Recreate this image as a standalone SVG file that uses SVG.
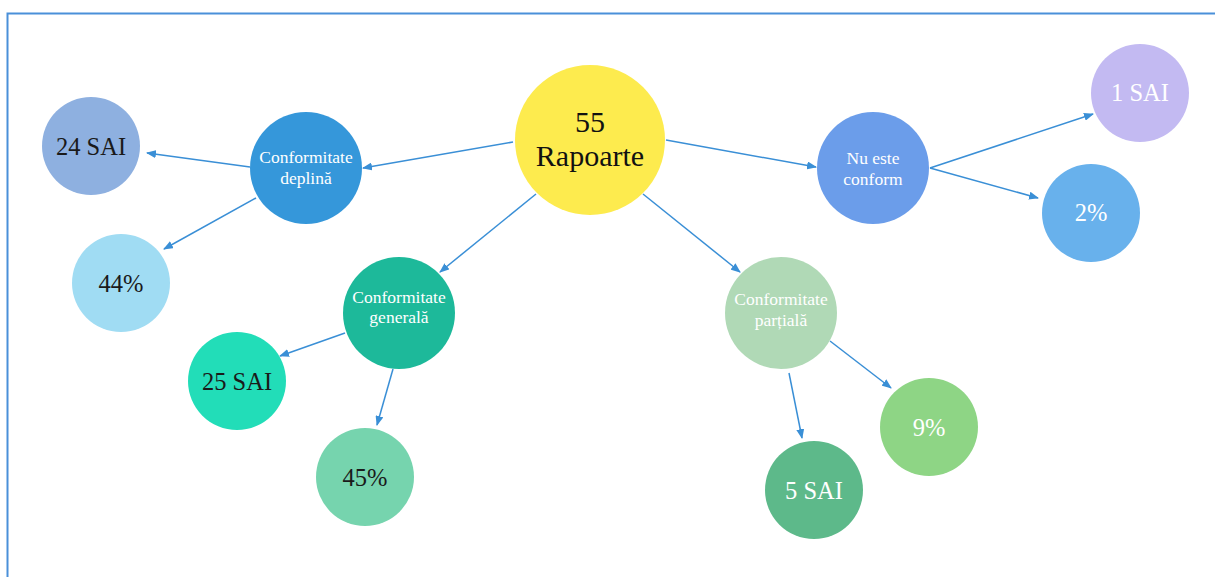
<svg xmlns="http://www.w3.org/2000/svg" width="1215" height="577" viewBox="0 0 1215 577">
<defs>
<marker id="ah" markerWidth="10" markerHeight="8" refX="9" refY="4" orient="auto" markerUnits="userSpaceOnUse">
<path d="M0,0 L10,4 L0,8 z" fill="#3a8fd6"/>
</marker>
<style>
.c{stroke:none}
.e{stroke:#3a8fd6;stroke-width:1.5;fill:none;marker-end:url(#ah)}
text{text-anchor:middle}
.big{font-size:30px;fill:#111}
.lbl{font-size:17.5px;fill:#fff}
.dk{font-size:24.5px;fill:#1a1a1a}
.wt{font-size:24.5px;fill:#fff}
</style>
</defs>
<rect width="1215" height="577" fill="#fff"/>
<path d="M7.5,577 L7.5,13.5 L1215,13.5" fill="none" stroke="#4a90d9" stroke-width="2"/>
<g id="connectors">
<line class="e" x1="513" y1="142" x2="363" y2="168"/>
<line class="e" x1="250" y1="167" x2="147" y2="153"/>
<line class="e" x1="256" y1="198" x2="164" y2="249"/>
<line class="e" x1="536" y1="194" x2="440" y2="272"/>
<line class="e" x1="643" y1="194" x2="740" y2="272"/>
<line class="e" x1="666" y1="140" x2="816" y2="167"/>
<line class="e" x1="930" y1="168" x2="1093" y2="114"/>
<line class="e" x1="930" y1="168" x2="1038" y2="198"/>
<line class="e" x1="345" y1="333" x2="280" y2="356"/>
<line class="e" x1="393" y1="369" x2="377" y2="425"/>
<line class="e" x1="789" y1="373" x2="802" y2="438"/>
<line class="e" x1="830" y1="341" x2="891" y2="388"/>
</g>
<g font-family="Liberation Serif, DejaVu Serif, serif">
<g id="n-center"><circle class="c" cx="590" cy="140" r="75" fill="#fdeb4e"/><text class="big" x="590" y="132">55</text><text class="big" x="590" y="166">Rapoarte</text></g>
<g id="n-deplina"><circle class="c" cx="306" cy="168" r="56" fill="#3597da"/><text class="lbl" x="306" y="163">Conformitate</text><text class="lbl" x="306" y="184">deplină</text></g>
<g id="n-24sai"><circle class="c" cx="91" cy="146" r="49" fill="#8eb0e0"/><text class="dk" x="91" y="155">24 SAI</text></g>
<g id="n-44"><circle class="c" cx="121" cy="283" r="49" fill="#a0dcf3"/><text class="dk" x="121" y="292">44%</text></g>
<g id="n-generala"><circle class="c" cx="399" cy="313" r="56" fill="#1db99a"/><text class="lbl" x="399" y="303">Conformitate</text><text class="lbl" x="399" y="323">generală</text></g>
<g id="n-25sai"><circle class="c" cx="237" cy="381" r="49" fill="#22ddb8"/><text class="dk" x="237" y="390">25 SAI</text></g>
<g id="n-45"><circle class="c" cx="365" cy="477" r="49" fill="#76d4ae"/><text class="dk" x="365" y="486">45%</text></g>
<g id="n-partiala"><circle class="c" cx="781" cy="313" r="56" fill="#b0d9b6"/><text class="lbl" x="781" y="305">Conformitate</text><text class="lbl" x="781" y="326">parțială</text></g>
<g id="n-9"><circle class="c" cx="929" cy="427" r="49" fill="#8ed585"/><text class="wt" x="929" y="436">9%</text></g>
<g id="n-5sai"><circle class="c" cx="814" cy="490" r="49" fill="#5db98a"/><text class="wt" x="814" y="499">5 SAI</text></g>
<g id="n-nueste"><circle class="c" cx="873" cy="168" r="56" fill="#6b9dea"/><text class="lbl" x="873" y="164">Nu este</text><text class="lbl" x="873" y="185">conform</text></g>
<g id="n-1sai"><circle class="c" cx="1140" cy="93" r="49" fill="#c3baf2"/><text class="wt" x="1140" y="101">1 SAI</text></g>
<g id="n-2"><circle class="c" cx="1091" cy="213" r="49" fill="#68b1ec"/><text class="wt" x="1091" y="221">2%</text></g>
</g>
</svg>
